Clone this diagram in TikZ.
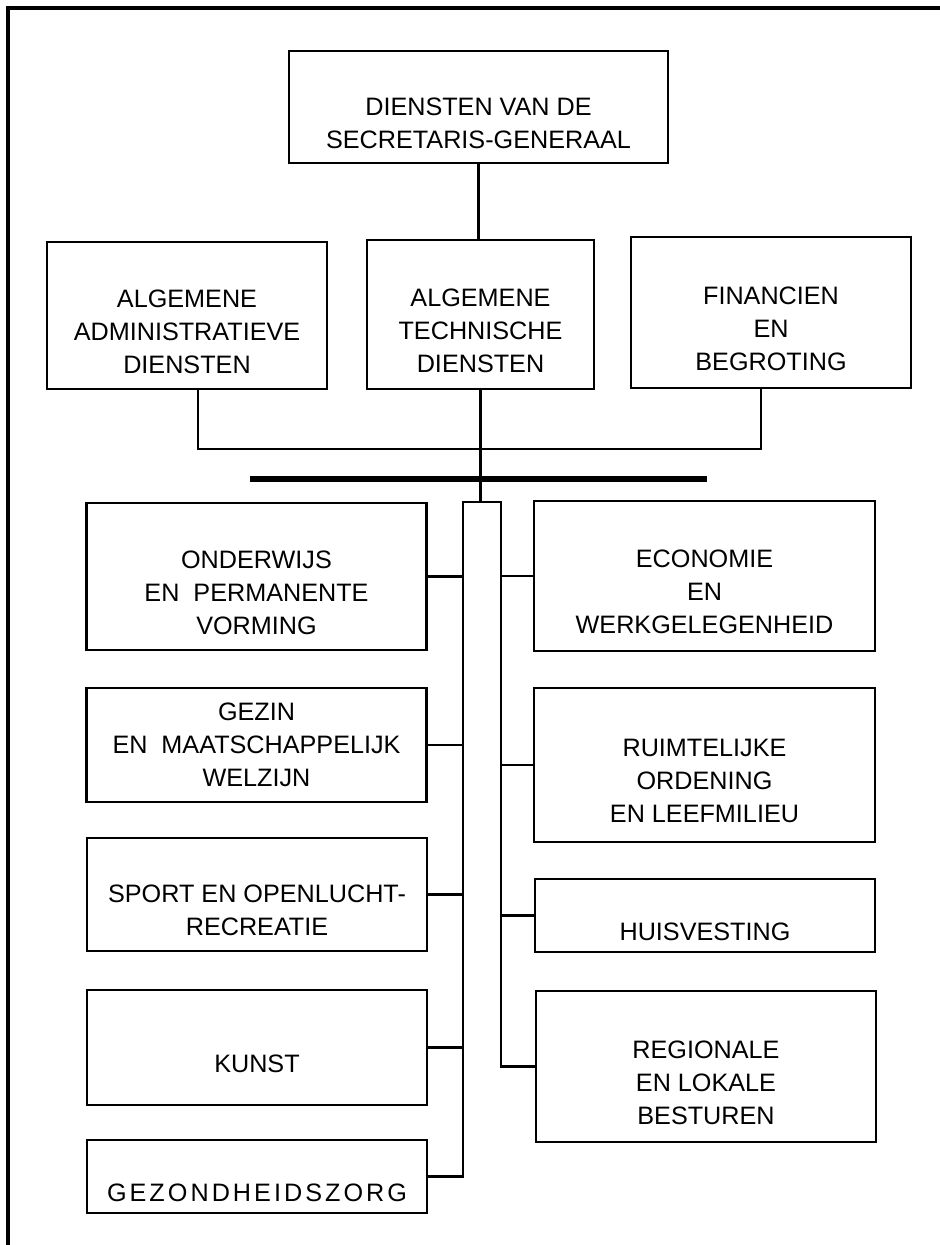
\documentclass[tikz,border=0pt]{standalone}
\usepackage{fontspec}
\setmainfont{Liberation Sans}
\begin{document}
\begin{tikzpicture}[x=0.5pt, y=-0.5pt,
  dienst/.style={draw, line width=1.4pt, inner sep=0pt},
  tekst/.style={align=center, font=\fontsize{12.6}{16.5}\selectfont, yshift=-8pt},
  lijn/.style={line width=1.4pt}]
  \useasboundingbox (0,0) rectangle (940,1245);
  \draw[line width=2pt] (8,1245) -- (8,8) -- (940,8); % kader
  % top
  \node[dienst, minimum width=189.5pt, minimum height=56pt,
    label={[tekst]center:{DIENSTEN VAN DE\\SECRETARIS-GENERAAL}}] (sg) at (478.5,107) {};
  \node[dienst, minimum width=140pt, minimum height=73.5pt,
    label={[tekst]center:{ALGEMENE\\ADMINISTRATIEVE\\DIENSTEN}}] (aad) at (187,315.5) {};
  \node[dienst, minimum width=113.5pt, minimum height=74.5pt,
    label={[tekst]center:{ALGEMENE\\TECHNISCHE\\DIENSTEN}}] (atd) at (480.5,314.5) {};
  \node[dienst, minimum width=140pt, minimum height=75.5pt,
    label={[tekst]center:{FINANCIEN\\EN\\BEGROTING}}] (fin) at (771,312.5) {};
  % links
  \node[dienst, minimum width=170pt, minimum height=73.5pt,
    label={[tekst]center:{ONDERWIJS\\EN\ \ PERMANENTE\\VORMING}}] (onderwijs) at (256.5,576.5) {};
  \node[dienst, minimum width=170pt, minimum height=57pt,
    label={[tekst, yshift=8pt]center:{GEZIN\\EN\ \ MAATSCHAPPELIJK\\WELZIJN}}] (gezin) at (256.5,745) {};
  \node[dienst, minimum width=170pt, minimum height=56.5pt,
    label={[tekst]center:{SPORT EN OPENLUCHT-\\RECREATIE}}] (sport) at (257,894.5) {};
  \node[dienst, minimum width=170pt, minimum height=57.5pt,
    label={[tekst]center:KUNST}] (kunst) at (257,1047.5) {};
  \node[dienst, minimum width=170pt, minimum height=36.5pt,
    label={[tekst]center:{\addfontfeature{LetterSpace=12}GEZONDHEIDSZORG}}] (gezond) at (257,1176.5) {};
  % rechts
  \node[dienst, minimum width=170.5pt, minimum height=75pt,
    label={[tekst]center:{ECONOMIE\\EN\\WERKGELEGENHEID}}] (economie) at (704.5,576) {};
  \node[dienst, minimum width=170.5pt, minimum height=77pt,
    label={[tekst]center:{RUIMTELIJKE\\ORDENING\\EN LEEFMILIEU}}] (ruimte) at (704.5,765) {};
  \node[dienst, minimum width=170pt, minimum height=36.5pt,
    label={[tekst]center:HUISVESTING}] (huisvesting) at (705,915.5) {};
  \node[dienst, minimum width=170pt, minimum height=75.5pt,
    label={[tekst]center:{REGIONALE\\EN LOKALE\\BESTUREN}}] (regio) at (706,1066.5) {};
  % verbindingen
  \coordinate (jl) at (198,449);
  \coordinate (jr) at (761,449);
  \coordinate (barl) at (463,502);
  \coordinate (barr) at (501,502);
  \draw[lijn] (sg.south) -- (sg.south |- atd.north);
  \draw[line width=1pt] (aad.south -| jl) -- (jl) -- (jr) -- (fin.south -| jr);
  \draw[lijn] (atd.south) -- (atd.south |- barl);
  \draw[line width=3pt] (250,479) -- (707,479);
  \draw[lijn] (gezond.east) -| (barl) -- (barr) |- (regio.west);
  \foreach \n in {onderwijs, gezin, sport, kunst}
    \draw[lijn] (\n.east) -- (\n.east -| barl);
  \foreach \n in {economie, ruimte, huisvesting}
    \draw[lijn] (\n.west) -- (\n.west -| barr);
\end{tikzpicture}
\end{document}
